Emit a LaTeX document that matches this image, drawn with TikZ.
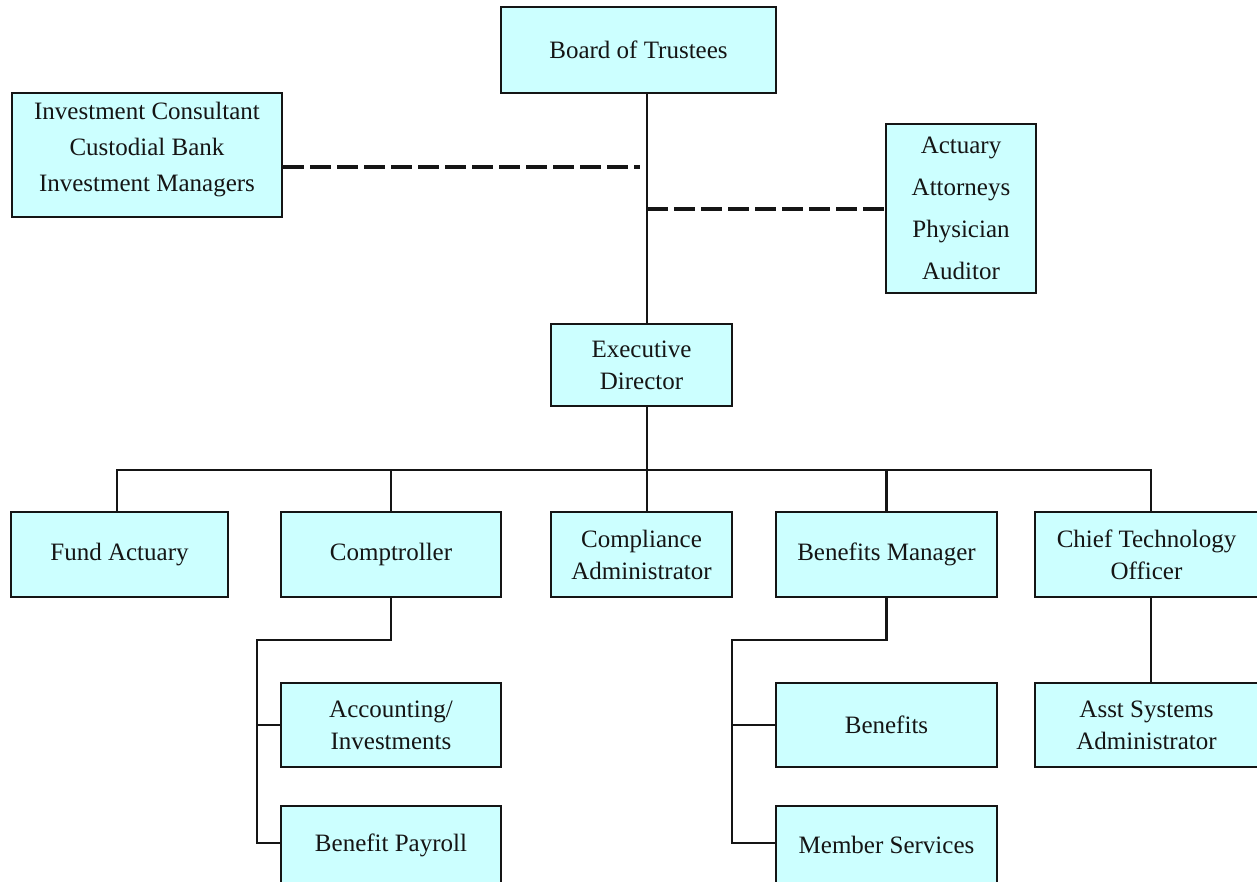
\documentclass[tikz,border=0pt]{standalone}
\usepackage{fontspec}
\setmainfont{Liberation Serif}
\definecolor{boxfill}{HTML}{CCFFFF}
\definecolor{ink}{HTML}{151515}
\newcommand\liftby[2]{\raisebox{#1}[\height][\depth]{#2}}
\begin{document}
\begin{tikzpicture}[x=1pt,y=-1pt,
  orgbox/.style={draw=ink, fill=boxfill, line width=2.6pt, inner sep=0pt,
    align=center, font=\fontsize{25}{32}\selectfont, text=ink},
  link/.style={draw=ink, line width=2.4pt},
  dashlink/.style={draw=ink, line width=3.8pt, dash pattern=on 21pt off 6pt}]
\useasboundingbox (0,0) rectangle (1257,882);
% boxes
\node[orgbox, minimum width=275pt, minimum height=86pt] (board) at (638.5,50) {Board of Trustees};
\node[orgbox, minimum width=270pt, minimum height=124pt] (inv) at (147,155)
  {\liftby{7pt}{\fontsize{25}{36}\selectfont\begin{tabular}{@{}c@{}}Investment Consultant\\Custodial Bank\\Investment Managers\end{tabular}}};
\node[orgbox, minimum width=150pt, minimum height=169pt] (adv) at (961,208.5)
  {\fontsize{25}{42}\selectfont\begin{tabular}{@{}c@{}}Actuary\\Attorneys\\Physician\\Auditor\end{tabular}};
\node[orgbox, minimum width=181pt, minimum height=82pt] (exec) at (641.5,365) {Executive\\Director};
\node[orgbox, minimum width=217pt, minimum height=85pt] (fund) at (119.5,554.5) {Fund Actuary};
\node[orgbox, minimum width=220pt, minimum height=85pt] (comp) at (391,554.5) {Comptroller};
\node[orgbox, minimum width=181pt, minimum height=85pt] (compl) at (641.5,554.5) {Compliance\\Administrator};
\node[orgbox, minimum width=221pt, minimum height=85pt] (benm) at (886.5,554.5) {Benefits Manager};
\node[orgbox, minimum width=223pt, minimum height=85pt] (cto) at (1146.5,554.5) {Chief Technology\\Officer};
\node[orgbox, minimum width=220pt, minimum height=84pt] (acct) at (391,725) {Accounting/\\Investments};
\node[orgbox, minimum width=220pt, minimum height=84pt] (pay) at (391,848) {\liftby{3pt}{Benefit Payroll}};
\node[orgbox, minimum width=221pt, minimum height=84pt] (benf) at (886.5,725) {Benefits};
\node[orgbox, minimum width=221pt, minimum height=84pt] (mem) at (886.5,848) {\liftby{3pt}{Member Services}};
\node[orgbox, minimum width=223pt, minimum height=84pt] (asst) at (1146.5,725) {Asst Systems\\Administrator};
% helper coordinates
\coordinate (trunk) at (647,0);
\coordinate (bus) at (0,470);
\coordinate (dl) at (640,167);
\coordinate (dr) at (647,209);
\coordinate (fd) at (117,512);
\coordinate (cd) at (1151,512);
\coordinate (cl) at (257,640);
\coordinate (cp) at (257,843);
\coordinate (bl) at (732,640);
\coordinate (bp) at (732,843);
% trunk
\draw[link] (board.south -| trunk) -- (exec.north -| trunk);
\draw[dashlink] (inv.east |- dl) -- (dl);
\draw[dashlink] (dr) -- (adv.west |- dr);
% bus
\draw[link] (exec.south -| trunk) -- (trunk |- bus);
\draw[link] (fd) -- (fd |- bus) -- (cd |- bus) -- (cd);
\draw[link] (comp.north) -- (comp.north |- bus);
\draw[link] (benm.north) -- (benm.north |- bus);
\draw[link] (compl.north -| trunk) -- (trunk |- bus);
% comptroller subtree
\draw[link] (comp.south) -- (comp.south |- cl) -- (cl) -- (cp) -- (cp -| pay.west);
\draw[link] (cl |- acct.west) -- (acct.west);
% benefits subtree
\draw[link] (benm.south) -- (benm.south |- bl) -- (bl) -- (bp) -- (bp -| mem.west);
\draw[link] (bl |- benf.west) -- (benf.west);
% cto
\draw[link] (cto.south -| cd) -- (asst.north -| cd);
\end{tikzpicture}
\end{document}
